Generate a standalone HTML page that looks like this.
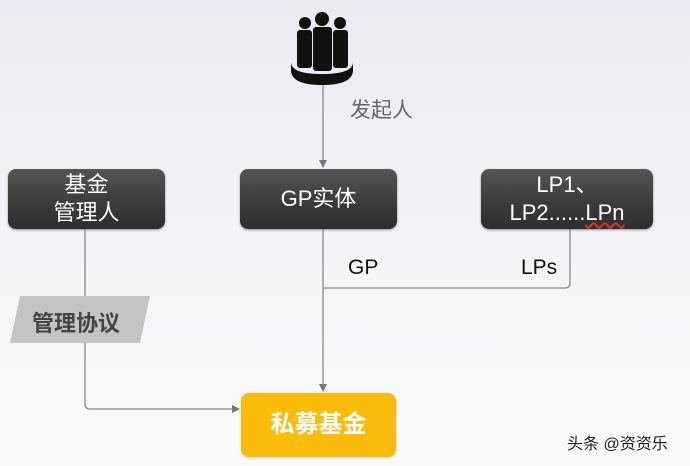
<!DOCTYPE html>
<html><head><meta charset="utf-8"><style>
body{margin:0;width:690px;height:466px;overflow:hidden;background:linear-gradient(#ebeaf0 0%,#f3f3f5 45%,#fafafa 100%);font-family:"Liberation Sans","Noto Sans CJK SC",sans-serif;position:relative}
.box{position:absolute;background:linear-gradient(#555 0%,#3a3a3a 60%,#2e2e2e 100%);border-radius:8px;color:#fff;display:flex;align-items:center;justify-content:center;text-align:center;font-size:22px;line-height:28px;box-shadow:0 1px 2px rgba(0,0,0,.4)}
.t{position:absolute;white-space:nowrap}
</style></head><body>
<svg width="690" height="466" style="position:absolute;left:0;top:0">
<defs><marker id="a" markerWidth="8" markerHeight="8" refX="7" refY="4" orient="auto" markerUnits="userSpaceOnUse"><path d="M0,0 L8,4 L0,8z" fill="#777"/></marker></defs>
<g fill="#111">
<circle cx="305" cy="23" r="6"/><circle cx="340" cy="23" r="6"/><circle cx="322" cy="19" r="7"/>
<rect x="297" y="30" width="15" height="38" rx="3"/><rect x="333" y="30" width="15" height="38" rx="3"/><rect x="313" y="27" width="19" height="44" rx="3"/>
<path d="M291,62 Q291,74 322,74 Q353,74 353,62 L353,70 Q353,85 322,85 Q291,85 291,70z"/>
</g>
<g stroke="#888" stroke-width="1.3" fill="none">
<line x1="323" y1="85" x2="323" y2="167" marker-end="url(#a)"/>
<line x1="323" y1="229" x2="323" y2="391" marker-end="url(#a)"/>
<path d="M570,229 L570,283 Q570,288 565,288 L323,288"/>
<path d="M85,229 L85,404 Q85,409 90,409 L239,409" marker-end="url(#a)"/>
</g>
<polygon points="20,296 150,296 140,343 10,343" fill="#c4c4c4"/>
</svg>
<div class="t" style="left:350px;top:94px;font-size:21px;color:#666">发起人</div>
<div class="box" style="left:8px;top:169px;width:157px;height:60px"><div>基金<br>管理人</div></div>
<div class="box" style="left:240px;top:169px;width:157px;height:60px">GP实体</div>
<div class="box" style="left:481px;top:169px;width:172px;height:60px"><div>LP1、<br>LP2......<span style="text-decoration:underline wavy #c33">LPn</span></div></div>
<div class="t" style="left:348px;top:256px;font-size:21px;color:#111">GP</div>
<div class="t" style="left:521px;top:256px;font-size:21px;color:#111">LPs</div>
<div class="t" style="left:32px;top:306px;font-size:22px;font-weight:bold;color:#444">管理协议</div>
<div class="box" style="left:241px;top:393px;width:155px;height:64px;background:#fbbb0b;color:#fff;font-weight:bold;font-size:24px;box-shadow:0 1px 2px rgba(0,0,0,.15)">私募基金</div>
<div class="t" style="left:567px;top:430px;font-size:16px;color:#222">头条 @资资乐</div>
</body></html>
